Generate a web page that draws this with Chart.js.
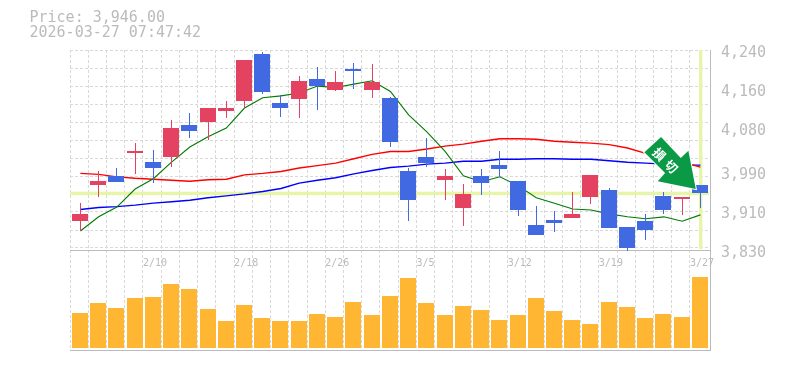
<!DOCTYPE html>
<html>
<head>
<meta charset="utf-8">
<style>html,body{margin:0;padding:0;background:#fff}#w{position:absolute;left:0;top:0;width:785px;height:370px}</style>
<script src="https://cdn.jsdelivr.net/npm/chart.js@4"></script>
</head>
<body>
<div id="w"><canvas id="c" width="785" height="370"></canvas></div>
<script>
const titleLines = ["Price: 3,946.00", "2026-03-27 07:47:42"];
const dates = ["2/4","2/5","2/6","2/9","2/10","2/12","2/13","2/16","2/17","2/18","2/19","2/20","2/24","2/25","2/26","2/27","3/2","3/3","3/4","3/5","3/6","3/9","3/10","3/11","3/12","3/13","3/16","3/17","3/18","3/19","3/23","3/24","3/25","3/26","3/27"];
const opens  = [3890,3963,3982,4029,4010,4021,4086,4092,4115,4135,4232,4131,4140,4181,4158,4201,4158,4142,3992,4021,3974,3916,3982,4004,3971,3881,3892,3896,3939,3953,3877,3890,3941,3935,3963];
const highs  = [3926,3992,3998,4049,4035,4096,4111,4121,4135,4220,4236,4148,4187,4205,4197,4213,4211,4144,3998,4060,3996,3965,3996,4033,3971,3920,3910,3949,3984,3957,3877,3904,3949,3939,3963];
const lows   = [3869,3939,3969,3986,3967,4000,4060,4056,4101,4119,4150,4103,4101,4117,4156,4160,4142,4041,3890,4000,3933,3879,3943,3980,3900,3861,3867,3896,3924,3875,3828,3851,3904,3902,3916];
const closes = [3904,3971,3969,4033,3998,4080,4074,4121,4121,4220,4154,4121,4176,4166,4174,4197,4174,4051,3933,4008,3982,3945,3967,3996,3912,3861,3885,3904,3984,3875,3834,3871,3912,3939,3946];
const maShort = [3869,3898,3918,3955,3976,4010,4041,4062,4080,4121,4142,4146,4152,4166,4163,4170,4177,4155,4107,4072,4032,3982,3970,3980,3962,3937,3926,3914,3912,3904,3898,3894,3898,3889,3902];
const maMid   = [3987,3985,3980,3977,3975,3973,3971,3974,3975,3984,3987,3991,3998,4003,4008,4017,4026,4032,4032,4037,4043,4047,4053,4058,4058,4057,4053,4051,4049,4046,4039,4028,4019,4010,4000];
const maLong  = [3913,3917,3919,3922,3926,3929,3932,3937,3941,3945,3950,3956,3967,3973,3978,3986,3993,3999,4002,4006,4008,4012,4012,4016,4016,4017,4017,4016,4016,4013,4010,4008,4006,4004,4004];
const volumes = [35000,45000,40000,50000,51000,64000,59000,39000,27000,43000,30000,27000,27000,34000,31000,46000,33000,52000,70000,45000,33000,42000,38000,28000,33000,50000,37000,28000,24000,46000,41000,30000,34000,31000,71000];
const priceTicks = [4240,4160,4080,3990,3910,3830];
const signalText = "損切";

const RED = "#E34260", BLUE = "#4169E1", AMBER = "#FFB733", GRID = "#D9D9D9", AXIS = "#BBBBBB", BAND = "#E6F5A6";
const MONO = '"DejaVu Sans Mono", monospace';
const colors = opens.map((o, i) => closes[i] >= o ? RED : BLUE);
const xy = (arr) => arr.map((v, i) => ({x: i, y: v}));
const xMin = -0.57, xMax = 34.527;

const snapPlugin = {
  id: "snap",
  afterDatasetsUpdate(chart) {
    chart.getSortedVisibleDatasetMetas().forEach(meta => {
      if (meta.type !== "bar") return;
      const thin = chart.data.datasets[meta.index].barThickness === 1;
      meta.data.forEach(el => {
        el.x = thin ? Math.floor(el.x) + 0.5 : Math.floor(el.x);
        el.y = Math.round(el.y);
        el.base = Math.round(el.base);
      });
    });
  }
};
const decorPlugin = {
  id: "decor",
  beforeDatasetsDraw(chart) {
    const {ctx, scales, chartArea} = chart;
    const last = closes.length - 1;
    const py = scales.y.getPixelForValue(closes[last]);
    const px = scales.x.getPixelForValue(last);
    const sep = scales.y.getPixelForValue(priceTicks[priceTicks.length - 1]);
    ctx.save();
    ctx.fillStyle = BAND;
    ctx.fillRect(chartArea.left, py - 1.7, chartArea.right - chartArea.left - 1, 3.4);
    ctx.fillRect(Math.floor(px) - 1, chartArea.top, 3.4, sep - chartArea.top - 1);
    ctx.restore();
  },
  afterDraw(chart) {
    const {ctx, scales} = chart;
    const last = closes.length - 1;
    const tx = scales.x.getPixelForValue(last) - 4.6;
    const ty = scales.y.getPixelForValue(closes[last]) - 4.4;
    ctx.save();
    ctx.fillStyle = AXIS;
    ctx.font = '15px ' + MONO;
    ctx.textAlign = "left";
    ctx.textBaseline = "middle";
    titleLines.forEach((t, i) => ctx.fillText(t, 29.5, 18 + i * 15));
    ctx.translate(tx, ty);
    const shape = [[0,0],[-7.4,-38.3],[-15,-31],[-34.7,-52],[-51.4,-36.7],[-30.7,-16],[-38,-7.7]];
    ctx.beginPath();
    shape.forEach((p, i) => i ? ctx.lineTo(p[0], p[1]) : ctx.moveTo(p[0], p[1]));
    ctx.closePath();
    ctx.lineWidth = 2;
    ctx.lineJoin = "miter";
    ctx.strokeStyle = "#FFFFFF";
    ctx.stroke();
    ctx.fillStyle = "#0A9A46";
    ctx.fill();
    ctx.fillStyle = "#FFFFFF";
    ctx.font = 'bold 12.5px "Noto Sans CJK JP", sans-serif';
    ctx.textAlign = "center";
    ctx.textBaseline = "middle";
    [[-36.5,-34.8],[-24.5,-22.4]].forEach((p, i) => {
      ctx.save();
      ctx.translate(p[0], p[1]);
      ctx.rotate(Math.PI / 4);
      ctx.fillText(signalText[i], 0, 0);
      ctx.restore();
    });
    ctx.restore();
  }
};

new Chart(document.getElementById("c"), {
  data: {
    labels: dates,
    datasets: [
      {type: "bar", label: "Volume", yAxisID: "yv", data: xy(volumes), backgroundColor: AMBER, barThickness: 16, grouped: false, inflateAmount: 0, borderWidth: 0, order: 6},
      {type: "line", label: "MA long", data: xy(maLong), borderColor: "#0000FF", borderWidth: 1.4, pointRadius: 0, tension: 0, order: 5},
      {type: "line", label: "MA mid", data: xy(maMid), borderColor: "#FF0000", borderWidth: 1.4, pointRadius: 0, tension: 0, order: 4},
      {type: "line", label: "MA short", data: xy(maShort), borderColor: "#007A00", borderWidth: 1.1, pointRadius: 0, tension: 0, order: 3},
      {type: "bar", label: "Wick", data: highs.map((h, i) => ({x: i, y: [lows[i], h]})), backgroundColor: colors, barThickness: 1, grouped: false, inflateAmount: 0, borderWidth: 0, order: 2},
      {type: "bar", label: "Body", data: opens.map((o, i) => ({x: i, y: [o, closes[i]]})), backgroundColor: colors, barThickness: 16, grouped: false, inflateAmount: 0, borderWidth: 0, order: 1}
    ]
  },
  options: {
    responsive: false,
    animation: false,
    events: [],
    layout: {padding: {left: 70, top: 50, right: 0, bottom: 20}},
    plugins: {legend: {display: false}, tooltip: {enabled: false}, title: {display: false}},
    scales: {
      x: {
        type: "linear", axis: "x", min: xMin, max: xMax, offset: false,
        position: {yv: 98000},
        afterBuildTicks(s) { s.ticks = dates.map((d, i) => ({value: xMin + i})); },
        grid: {color: GRID, lineWidth: 1, drawTicks: false, offset: false},
        border: {display: true, color: AXIS, width: 1, dash: [3, 2]},
        ticks: {
          autoSkip: false, maxRotation: 0, minRotation: 0, align: "start", padding: 7,
          color: AXIS, font: {family: MONO, size: 10},
          callback: (v, i) => i % 5 === 4 ? dates[i] : ""
        }
      },
      xb: {
        type: "linear", position: "bottom", min: xMin, max: xMax, offset: false,
        grid: {display: false, drawTicks: false, offset: false},
        border: {display: true, color: AXIS, width: 1},
        ticks: {display: false},
        afterFit(s) { s.height = 0; }
      },
      y: {
        type: "linear", position: "right", min: 3625, max: 4240,
        afterBuildTicks(s) { s.ticks = priceTicks.map(v => ({value: v})); },
        afterFit(s) { s.width = 75; },
        grid: {display: false, drawTicks: false},
        border: {display: true, color: AXIS, width: 1},
        ticks: {
          autoSkip: false, padding: 11, labelOffset: 3, color: AXIS,
          font: {family: MONO, size: 15},
          callback: v => v.toLocaleString("en-US")
        }
      },
      yg: {
        type: "linear", position: "left", reverse: true, min: 0, max: 300 / 18,
        afterBuildTicks(s) { s.ticks = [0,1,2,3,4,5,6,7,8,9,10,11].map(v => ({value: v})); },
        afterFit(s) { s.width = 0; },
        grid: {color: GRID, lineWidth: 1, drawTicks: false},
        border: {display: false, dash: [3, 2]},
        ticks: {display: false}
      },
      yv: {type: "linear", display: false, position: "right", min: -2000, max: 298000, grid: {display: false}}
    }
  },
  plugins: [snapPlugin, decorPlugin]
});
</script>
</body>
</html>
